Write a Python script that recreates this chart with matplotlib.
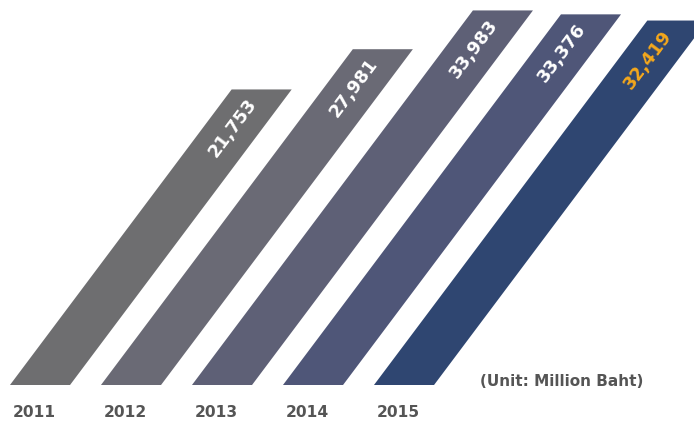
import matplotlib
matplotlib.use("Agg")
import matplotlib.pyplot as plt
from matplotlib.patches import Polygon
import numpy as np

years = ["2011", "2012", "2013", "2014", "2015"]
values = [21753, 27981, 33983, 33376, 32419]
value_labels = ["21,753", "27,981", "33,983", "33,376", "32,419"]
bar_colors = ["#6e6e70", "#6a6a75", "#5e6076", "#4f5678", "#2f4671"]
label_colors = ["white", "white", "white", "white", "#f5a81c"]
unit_text = "(Unit: Million Baht)"

fig = plt.figure(figsize=(6.94, 4.25), dpi=100)
ax = fig.add_axes([0, 0, 1, 1])
ax.set_axis_off()

base = -24000      # visual baseline of the infographic bars
k = 0.00646        # pixels per unit
ax.set_xlim(-40 / 91, (694 - 40) / 91)
ax.set_ylim(base - 40 / k, base + 385 / k)

w = 0.66
slant = 0.75
inv = ax.transData.inverted()
for i, (v, c, lab, lc) in enumerate(zip(values, bar_colors, value_labels, label_colors)):
    (x0, y0), (x1, y1) = ax.transData.transform([(i - w / 2, base), (i + w / 2, v)])
    h = y1 - y0
    pts = np.array([[x0, y0], [x1, y0], [x1 + slant * h, y1], [x0 + slant * h, y1]])
    ax.add_patch(Polygon(inv.transform(pts), closed=True, facecolor=c, edgecolor="none"))
    d = 39
    cx = (x0 + x1) / 2 + slant * h - slant * d
    cy = y1 - d
    tx, ty = inv.transform((cx, cy))
    ax.text(tx, ty, lab, color=lc, fontsize=12.8, fontweight="bold",
            rotation=53.13, rotation_mode="anchor", ha="center", va="center",
            family="DejaVu Sans")
    ax.annotate(years[i], xy=(i - w / 2, base), xytext=(2, -19.5), textcoords="offset points",
                ha="left", va="center", fontsize=11.2, fontweight="bold", color="#555555")

fig.text(643 / 694, 1 - 381 / 425, unit_text, ha="right", va="center",
         fontsize=11, fontweight="bold", color="#555555")

fig.savefig("out.png", dpi=100)
